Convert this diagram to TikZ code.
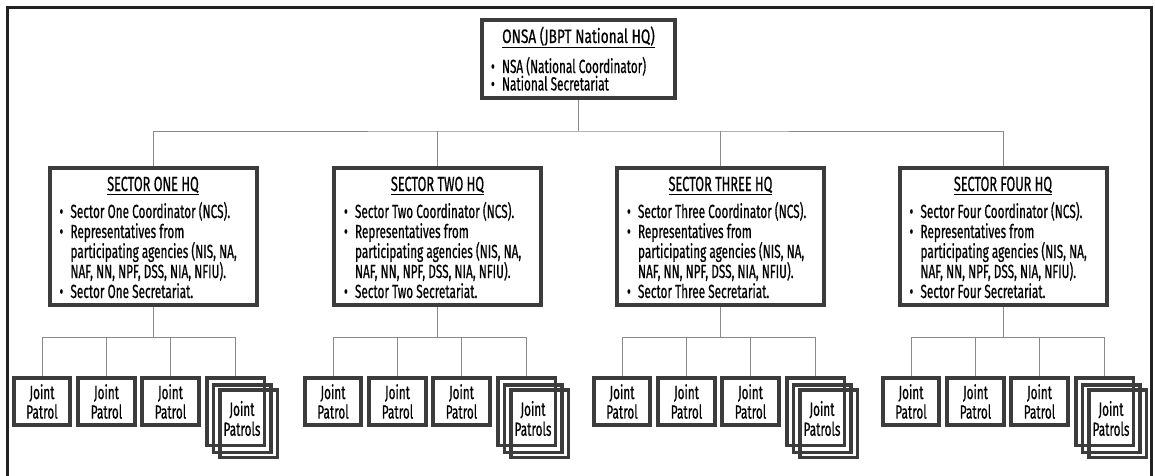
\documentclass[tikz,border=0pt]{standalone}
\usepackage{fontspec}
\setmainfont{Fira Sans}[FakeStretch=0.62, FakeBold=0.6]
\newfontfamily\hqtitlefont{Fira Sans}[FakeStretch=0.7, FakeBold=0.6]
\definecolor{boxline}{HTML}{3C3C3C}
\definecolor{connline}{HTML}{8A8A8A}
\definecolor{frameline}{HTML}{222222}
\newcommand\bitem[1]{\par\noindent\makebox[11pt][l]{\textbullet}#1}
\newcommand\citem[1]{\par\noindent\hspace*{11pt}#1}
\newcommand\secbody[2]{%
  \begin{minipage}[c][133pt][t]{187pt}%
  \setlength\lineskiplimit{-\maxdimen}\fontsize{19}{20}\selectfont\raggedright
  \noindent\rule{0pt}{21pt}\makebox[187pt][c]{\fontsize{20.5}{20}\selectfont\underline{#1}}\par
  \vspace{7pt}%
  \bitem{Sector #2 Coordinator (NCS).}
  \bitem{Representatives from}
  \citem{participating agencies (NIS, NA,}
  \citem{NAF, NN, NPF, DSS, NIA, NFIU).}
  \bitem{Sector #2 Secretariat.}\par
  \end{minipage}}
\begin{document}
\begin{tikzpicture}[x=1pt,y=-1pt,
  hqbox/.style={draw=boxline, line width=4pt, fill=white, inner sep=0pt, minimum width=193pt, minimum height=78pt},
  secbox/.style={draw=boxline, line width=4pt, fill=white, inner sep=0pt, minimum width=207pt, minimum height=137pt},
  patrol/.style={draw=boxline, line width=4pt, fill=white, inner sep=0pt, minimum width=56.5pt, minimum height=47pt, align=center, font=\fontsize{19}{19.5}\selectfont},
  stackbox/.style={draw=boxline, line width=3.5pt, inner sep=0pt, minimum width=57.5pt, minimum height=67.5pt, align=center, font=\fontsize{19}{20}\selectfont},
  conn/.style={draw=connline, line width=0.9pt}]
\useasboundingbox (0,0) rectangle (1155,475);
\draw[frameline, line width=3pt] (7.5,480) -- (7.5,7.5) -- (1151.5,7.5) -- (1151.5,480);

\node[hqbox] (onsa) at (578.5,59) {%
  \begin{minipage}[c][74pt][t]{175pt}%
  \setlength\lineskiplimit{-\maxdimen}\fontsize{19}{17.5}\selectfont\raggedright
  \noindent\rule{0pt}{21pt}\makebox[175pt][c]{\hqtitlefont\fontsize{19.5}{20}\selectfont\underline{ONSA (JBPT National HQ)}}\par
  \vspace{12.5pt}%
  \bitem{NSA (National Coordinator)}
  \bitem{National Secretariat}\par
  \end{minipage}};

\coordinate (tb) at (578.5,131);

\foreach \i/\cx/\g/\nm in {1/153/42/One, 2/437.5/333/Two, 3/720.5/622/Three, 4/1003/911/Four} {
  \node[secbox] (s\i) at (\cx,236.5) {\secbody{SECTOR \MakeUppercase{\nm} HQ}{\nm}};
  \coordinate (b\i) at (\cx,337);
  \node[patrol] (p\i a) at (\g,401.5) {Joint\\Patrol};
  \node[patrol] (p\i b) at (\g+64.5,401.5) {Joint\\Patrol};
  \node[patrol] (p\i c) at (\g+128.5,401.5) {Joint\\Patrol};
  \node[stackbox] (p\i d) at (\g+193.5,411.5) {};
  \node[stackbox] (p\i e) at (\g+200,418.5) {Joint\\Patrols};
  \node[stackbox] (p\i f) at (\g+206.5,423.5) {};
  \draw[conn] (s\i.south) -- (b\i);
  \draw[conn] (p\i a.north) |- (b\i) -| (p\i d.north);
  \draw[conn] (p\i b.north) -- (p\i b.north |- b\i);
  \draw[conn] (p\i c.north) -- (p\i c.north |- b\i);
}

\draw[conn] (onsa.south) -- (tb);
\draw[conn] (s1.north) |- (tb) -| (s4.north);
\draw[conn] (s2.north) -- (s2.north |- tb);
\draw[conn] (s3.north) -- (s3.north |- tb);
\end{tikzpicture}
\end{document}
